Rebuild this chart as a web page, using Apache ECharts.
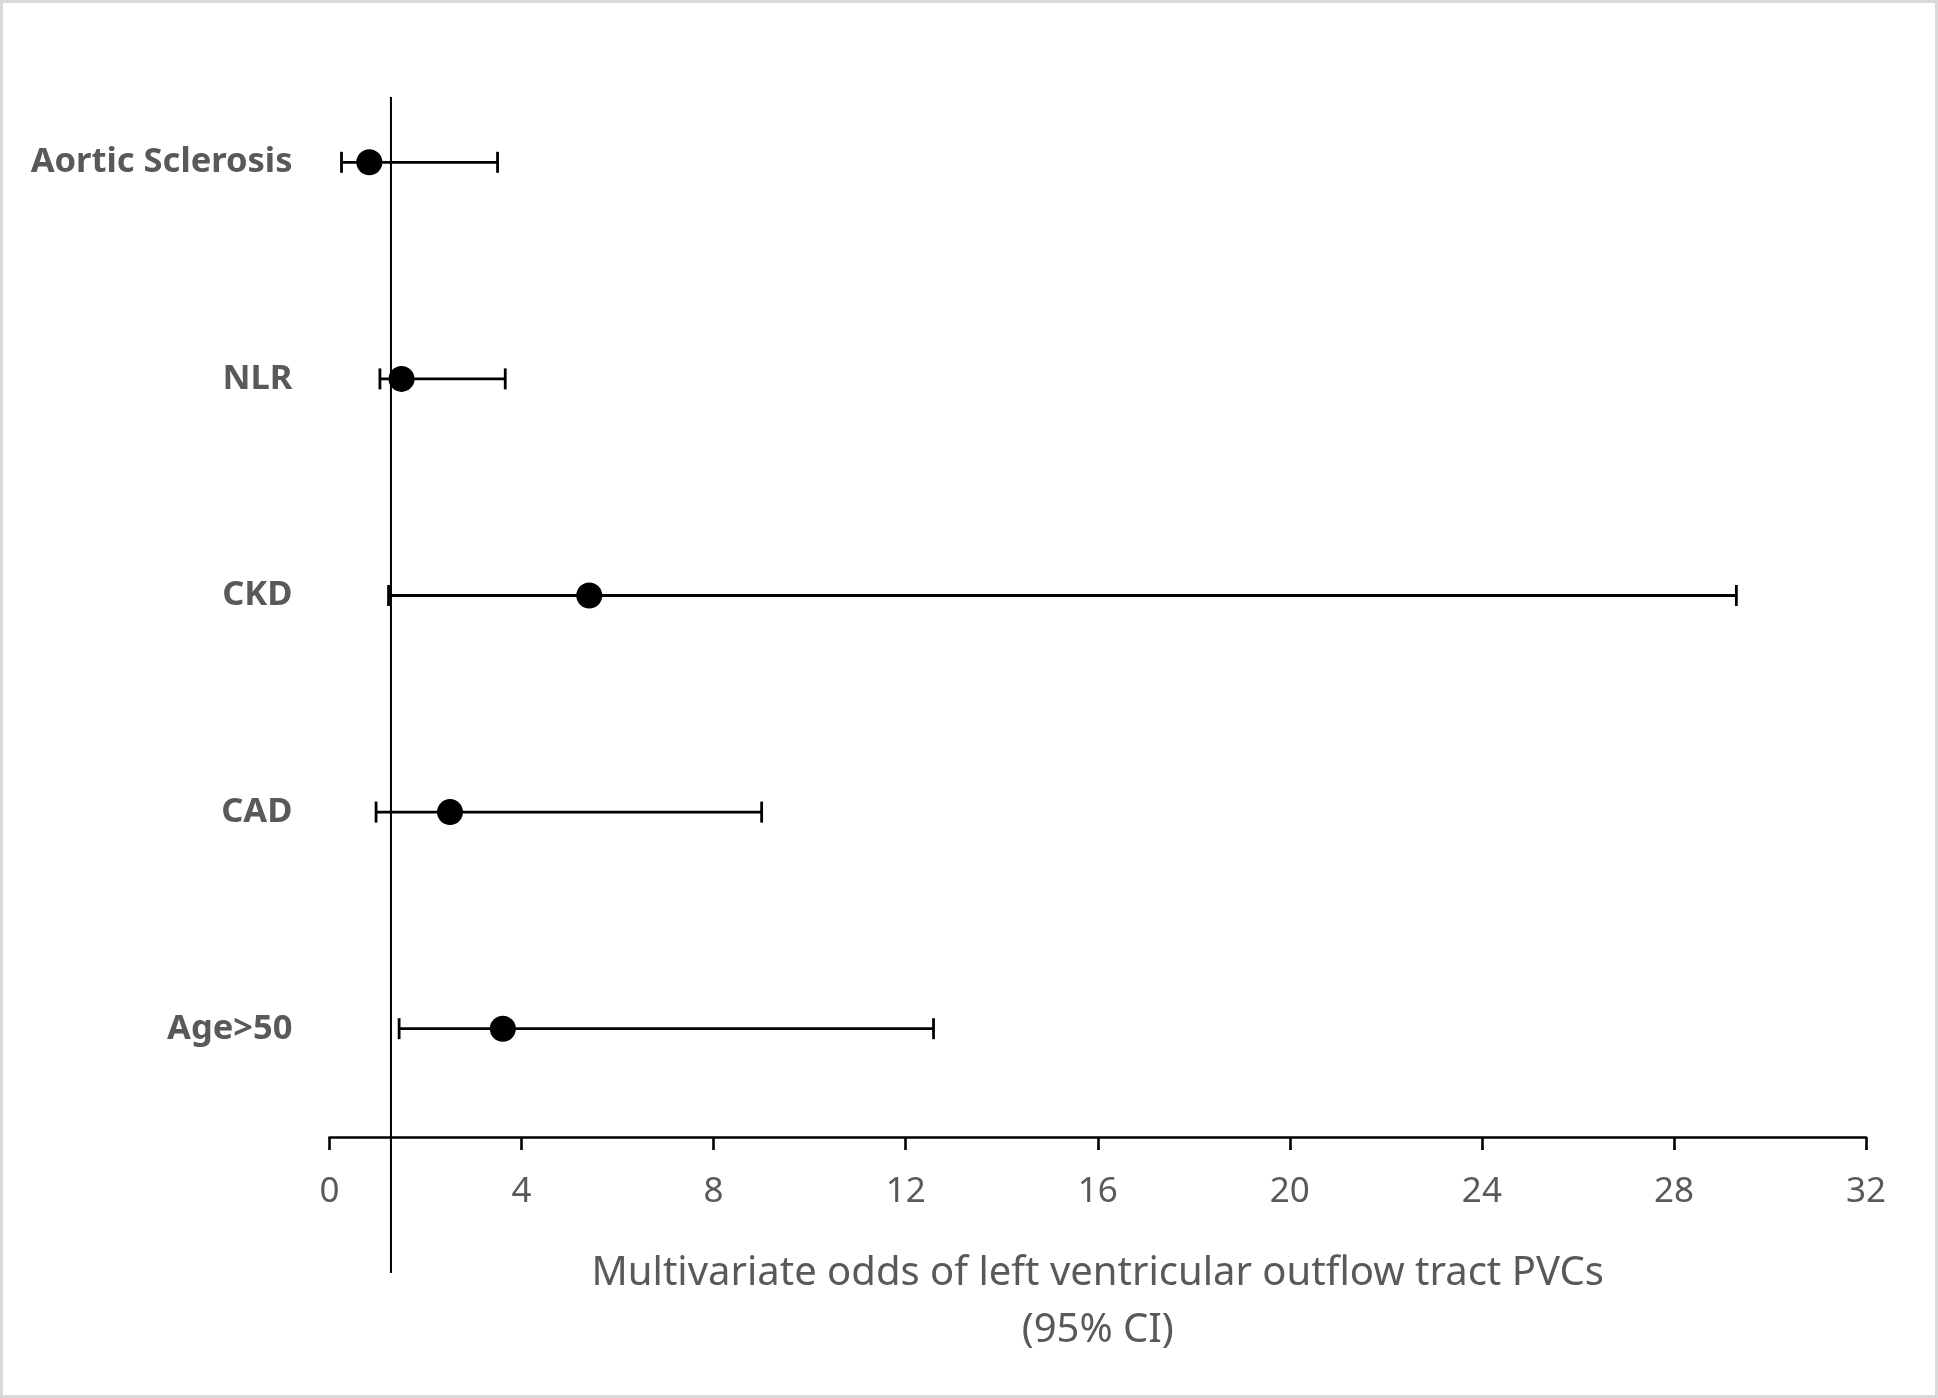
<!DOCTYPE html>
<html>
<head>
<meta charset="utf-8">
<script src="https://cdn.jsdelivr.net/npm/echarts@6/dist/echarts.min.js"></script>
<style>
html,body{margin:0;padding:0;background:#fff;}
#chart{width:1938px;height:1398px;}
</style>
</head>
<body>
<div id="chart"></div>
<script>
// Data
const categories = ['Aortic Sclerosis', 'NLR', 'CKD', 'CAD', 'Age>50'];
const oddsRatio = [0.83, 1.50, 5.41, 2.51, 3.61];
const ciLower = [0.25, 1.05, 1.23, 0.97, 1.45];
const ciUpper = [3.50, 3.66, 29.30, 9.00, 12.58];
const refLineValue = 1.28;
const xTicks = [0, 4, 8, 12, 16, 20, 24, 28, 32];

const chart = echarts.init(document.getElementById('chart'), null, {renderer: 'canvas'});

const grey = '#595959';
const FONT = 'Noto Sans';

const pointData = categories.map((c, i) => [oddsRatio[i], c]);
const ciData = categories.map((c, i) => [c, ciLower[i], ciUpper[i]]);

const option = {
  backgroundColor: '#ffffff',
  animation: false,
  graphic: [{
    type: 'rect',
    shape: {x: 1.5, y: 1.5, width: 1935, height: 1395},
    style: {fill: 'none', stroke: '#d9d9d9', lineWidth: 3},
    silent: true, z: -10
  }],
  grid: [
    {left: 329.5, right: 72, top: 54, bottom: 261, containLabel: false},
    {left: 329.5, right: 72, top: 97, bottom: 125, containLabel: false}
  ],
  xAxis: [{
    type: 'value',
    gridIndex: 0,
    min: xTicks[0],
    max: xTicks[xTicks.length - 1],
    interval: 4,
    splitLine: {show: false},
    axisLine: {show: true, onZero: false, lineStyle: {color: '#000', width: 2.6}},
    axisTick: {show: true, length: 13, lineStyle: {color: '#000', width: 2.6}},
    axisLabel: {color: grey, fontFamily: FONT, fontSize: 35, margin: 38},
    name: 'Multivariate odds of left ventricular outflow tract PVCs\n(95% CI)',
    nameLocation: 'middle',
    nameGap: 108,
    nameTextStyle: {color: grey, fontFamily: FONT, fontSize: 40, lineHeight: 57}
  }, {
    type: 'value',
    gridIndex: 1,
    min: xTicks[0],
    max: xTicks[xTicks.length - 1],
    show: false
  }],
  yAxis: [{
    type: 'category',
    gridIndex: 0,
    data: categories,
    inverse: true,
    boundaryGap: true,
    axisLine: {show: false},
    axisTick: {show: false},
    splitLine: {show: false},
    axisLabel: {color: grey, fontFamily: FONT, fontSize: 34.5, fontWeight: 'bold', margin: 37}
  }, {
    type: 'value',
    gridIndex: 1,
    min: 0,
    max: 1,
    show: false
  }],
  series: [{
    type: 'custom',
    xAxisIndex: 0,
    yAxisIndex: 0,
    data: ciData,
    encode: {y: 0, x: [1, 2]},
    renderItem: function (params, api) {
      const cat = api.value(0);
      const lo = api.coord([api.value(1), cat]);
      const hi = api.coord([api.value(2), cat]);
      const capH = 10.5;
      const style = {stroke: '#000', lineWidth: 2.8};
      return {
        type: 'group',
        children: [
          {type: 'line', shape: {x1: lo[0], y1: lo[1], x2: hi[0], y2: hi[1]}, style: style},
          {type: 'line', shape: {x1: lo[0], y1: lo[1] - capH, x2: lo[0], y2: lo[1] + capH}, style: style},
          {type: 'line', shape: {x1: hi[0], y1: hi[1] - capH, x2: hi[0], y2: hi[1] + capH}, style: style}
        ]
      };
    },
    z: 2
  }, {
    type: 'scatter',
    xAxisIndex: 0,
    yAxisIndex: 0,
    data: pointData,
    symbol: 'circle',
    symbolSize: 26,
    itemStyle: {color: '#000', opacity: 1},
    emphasis: {disabled: true},
    z: 3
  }, {
    type: 'line',
    xAxisIndex: 1,
    yAxisIndex: 1,
    data: [[refLineValue, 0], [refLineValue, 1]],
    symbol: 'none',
    lineStyle: {color: '#000', width: 2},
    z: 1
  }]
};

chart.setOption(option);
</script>
</body>
</html>
